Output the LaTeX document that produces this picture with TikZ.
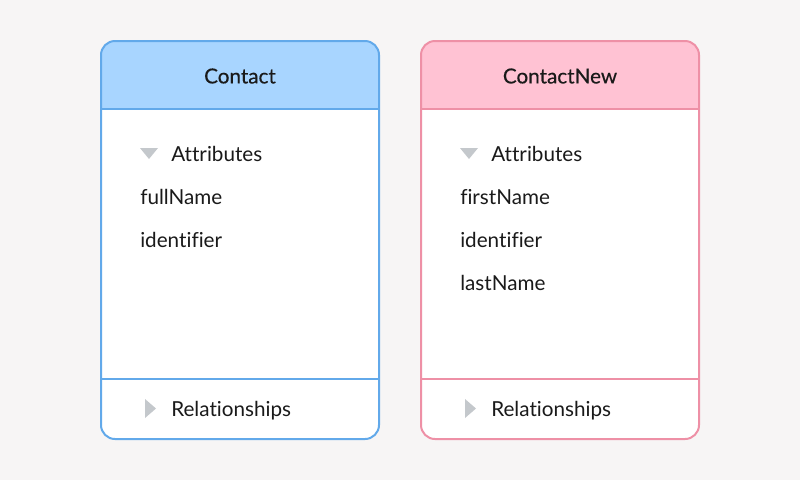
\documentclass[tikz,border=0pt]{standalone}
\usepackage{fontspec}
\setmainfont[Ligatures=NoCommon]{Lato}
\usepackage{tikz}
\usetikzlibrary{positioning}
\definecolor{PageGrey}{HTML}{F7F5F5}
\definecolor{SkyLine}{HTML}{62A9EA}
\definecolor{SkyFill}{HTML}{A8D5FF}
\definecolor{RoseLine}{HTML}{EE90A6}
\definecolor{RoseFill}{HTML}{FFC2D3}
\definecolor{ArrowGrey}{HTML}{C4C8CC}
\definecolor{InkBlack}{HTML}{1A1A1A}

\begin{document}
\begin{tikzpicture}[
        x=0.75pt, y=-0.75pt,
        every node/.style={font=\fontsize{15.5}{18}\selectfont,text=InkBlack,inner sep=0pt},
        title/.style={font=\fontsize{15.5}{18}\selectfont\addfontfeature{FakeBold=0.4}},
        item/.style={anchor=mid west},
        frame/.style={line width=1.5pt,rounded corners=10.5pt},
        tri/.style={fill=ArrowGrey}
      ]
        \fill[PageGrey] (0,0) rectangle (800,480);
        % Contact
        \fill[white,rounded corners=10.5pt] (101,41) rectangle (379,439);
        \begin{scope}
          \clip[rounded corners=10.5pt] (101,41) rectangle (379,439);
          \fill[SkyFill] (101,41) rectangle (379,109);
        \end{scope}
        \draw[SkyLine,line width=1.5pt] (101,109) -- (379,109);
        \draw[SkyLine,line width=1.5pt] (101,379) -- (379,379);
        \draw[frame,SkyLine] (101,41) rectangle (379,439);
        \node[title] (contact) at (240,76) {Contact};
        \fill[tri] (140,148) -- (158,148) -- (149,159) -- cycle;
        \node[item] (attrA) at (171,158) {Attributes};
        \node[item] (fullname) at (140,201) {fullName};
        \node[item] (identA) at (140,244) {identifier};
        \fill[tri] (145,399) -- (156,408.5) -- (145,418) -- cycle;
        \node[item] (relA) at (171,413) {Relationships};
        % ContactNew
        \fill[white,rounded corners=10.5pt] (421,41) rectangle (699,439);
        \begin{scope}
          \clip[rounded corners=10.5pt] (421,41) rectangle (699,439);
          \fill[RoseFill] (421,41) rectangle (699,109);
        \end{scope}
        \draw[RoseLine,line width=1.5pt] (421,109) -- (699,109);
        \draw[RoseLine,line width=1.5pt] (421,379) -- (699,379);
        \draw[frame,RoseLine] (421,41) rectangle (699,439);
        \node[title] (contactnew) at (560,76) {ContactNew};
        \fill[tri] (460,148) -- (478,148) -- (469,159) -- cycle;
        \node[item] (attrB) at (491,158) {Attributes};
        \node[item] (firstname) at (460,201) {firstName};
        \node[item] (identB) at (460,244) {identifier};
        \node[item] (lastname) at (460,287) {lastName};
        \fill[tri] (465,399) -- (476,408.5) -- (465,418) -- cycle;
        \node[item] (relB) at (491,413) {Relationships};
      \end{tikzpicture}
\end{document}
